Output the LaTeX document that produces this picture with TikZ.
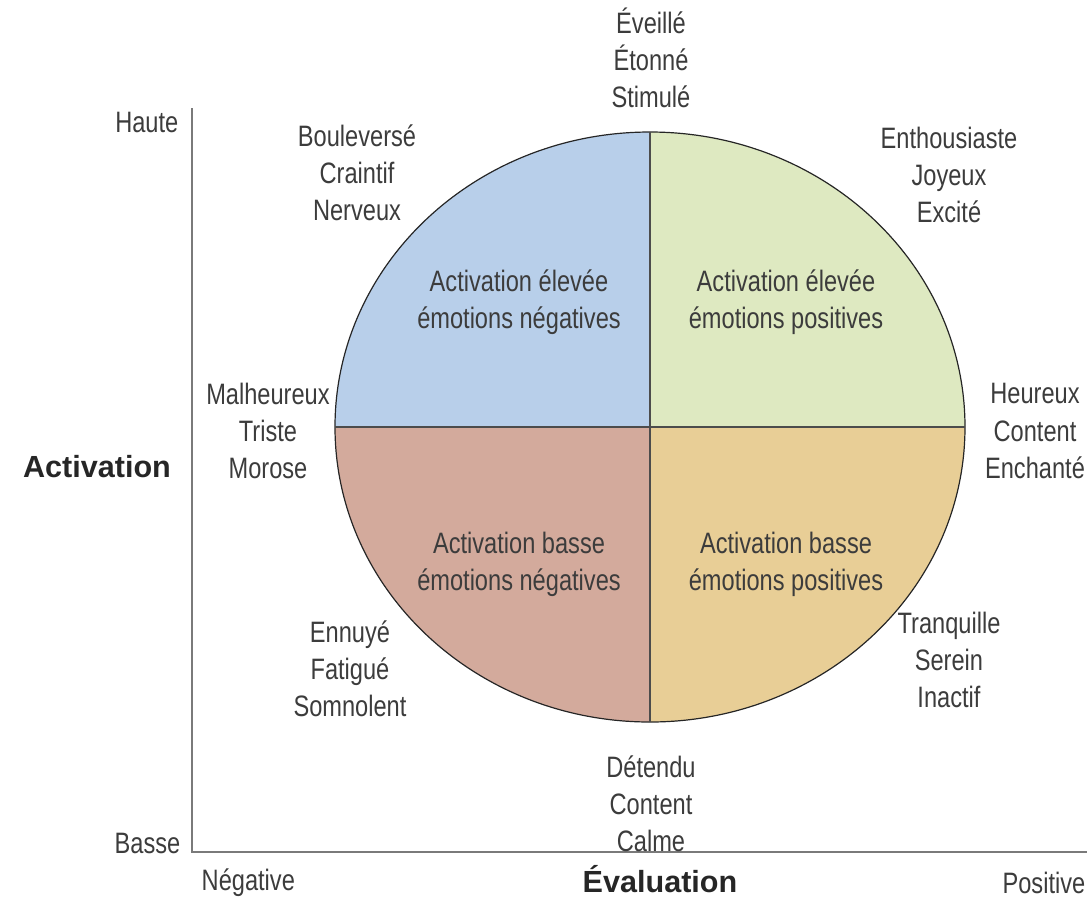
\documentclass[tikz,border=0pt]{standalone}
\usepackage{fontspec}
\setmainfont{Liberation Sans}[FakeStretch=0.8]
\newfontfamily\widesans{Liberation Sans}
\usetikzlibrary{positioning}

\definecolor{qblue}{HTML}{B8CFEA}
\definecolor{qgreen}{HTML}{DEE9C1}
\definecolor{qrose}{HTML}{D3AA9C}
\definecolor{qtan}{HTML}{E8CE96}
\definecolor{inkgray}{HTML}{3C3C3C}
\definecolor{axisgray}{HTML}{7A7A7A}

\begin{document}
\begin{tikzpicture}[
                x=0.1mm, y=-0.1mm,
                every node/.style={
                        inner sep=0pt,
                        align=center,
                        text=inkgray,
                        font=\fontsize{8.4}{10.6}\selectfont
                    },
                wordnode/.style={
                        align=center
                    },
                axisnode/.style={
                        text=black!85,
                        font=\widesans\fontsize{8.7}{10.6}\selectfont\bfseries
                    },
                axisline/.style={
                        draw=axisgray,
                        line width=0.22mm
                    },
                rim/.style={
                        draw=black!85,
                        line width=0.12mm
                    },
                divider/.style={
                        draw=black!70,
                        line width=0.14mm
                    }
            ]
            \useasboundingbox (0,0) rectangle (1092,899);

            % Quadrants of the circle
            \begin{scope}
                \clip (650,427) ellipse [x radius=315, y radius=295];
                \fill[qblue] (330,120) rectangle (650,427);
                \fill[qgreen] (650,120) rectangle (970,427);
                \fill[qrose] (330,427) rectangle (650,730);
                \fill[qtan] (650,427) rectangle (970,730);
            \end{scope}
            \draw[rim] (650,427) ellipse [x radius=315, y radius=295];
            \draw[divider] (650,132) -- (650,722);
            \draw[divider] (335,427) -- (965,427);

            % Axes
            \coordinate (top) at (192,108);
            \coordinate (origin) at (192,852);
            \coordinate (right) at (1087,852);
            \draw[axisline] (top) -- (origin) -- (right);

            % Axis labels
            \node[anchor=east] (haute) at (179,122) {Haute};
            \node[anchor=east] (basse) at (181,843) {Basse};
            \node[axisnode, anchor=base] (activation) at (97,477) {Activation};
            \node[anchor=west] (negative) at (201,883) {Négative};
            \node[anchor=east] (positive) at (1086,883) {Positive};
            \node[axisnode, anchor=base] (evaluation) at (660,892) {Évaluation};

            % Quadrant labels
            \node (hneg) at (519,302) {Activation élevée\\émotions négatives};
            \node (hpos) at (786,302) {Activation élevée\\émotions positives};
            \node (lneg) at (519,564) {Activation basse\\émotions négatives};
            \node (lpos) at (786,564) {Activation basse\\émotions positives};

            % Emotion words around the circle
            \node[wordnode] (eveille) at (651,58) {Éveillé\\Étonné\\Stimulé};
            \node[wordnode] (boule) at (357,173) {Bouleversé\\Craintif\\Nerveux};
            \node[wordnode] (enthou) at (949,175) {Enthousiaste\\Joyeux\\Excité};
            \node[wordnode] (malheur) at (268,431) {Malheureux\\Triste\\Morose};
            \node[wordnode] (heureux) at (1035,431) {Heureux\\Content\\Enchanté};
            \node[wordnode] (ennuye) at (350,669) {Ennuyé\\Fatigué\\Somnolent};
            \node[wordnode] (tranq) at (949,660) {Tranquille\\Serein\\Inactif};
            \node[wordnode] (detendu) at (651,804) {Détendu\\Content\\Calme};

        \end{tikzpicture}
\end{document}
